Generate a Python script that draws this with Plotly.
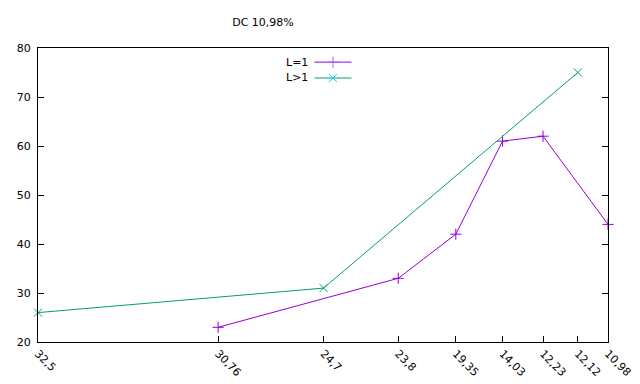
import plotly.graph_objects as go

# Data
x_pos = [0, 31.6, 50.1, 63.2, 73.3, 81.5, 88.6, 94.7, 100]
tick_labels = ["32,5", "30,76", "24,7", "23,8", "19,35", "14,03", "12,23", "12,12", "10,98"]

l1_x = [31.6, 63.2, 73.3, 81.5, 88.6, 100]
l1_y = [23, 33, 42, 61, 62, 44]

lg1_x = [0, 50.1, 94.7]
lg1_y = [26, 31, 75]

PURPLE = "#9400D3"
GREEN = "#009E73"
FONT = dict(family="DejaVu Sans, Verdana, sans-serif", size=11, color="black")
MSIZE = 8

fig = go.Figure()
fig.add_trace(go.Scatter(x=l1_x, y=l1_y, mode="lines+markers", name="L=1",
                         line=dict(color=PURPLE, width=1),
                         marker=dict(symbol="cross-thin-open", size=MSIZE,
                                     line=dict(color=PURPLE, width=1)),
                         showlegend=False, cliponaxis=False))
fig.add_trace(go.Scatter(x=lg1_x, y=lg1_y, mode="lines+markers", name="L>1",
                         line=dict(color=GREEN, width=1),
                         marker=dict(symbol="x-thin-open", size=MSIZE,
                                     line=dict(color=GREEN, width=1)),
                         showlegend=False, cliponaxis=False))

# manual gnuplot-style key (text, then sample)
key_names = ["L=1", "L>1"]
key_colors = [PURPLE, GREEN]
key_symbols = ["cross-thin-open", "x-thin-open"]
key_y = [0.952, 0.898]
for name, col, sym, ky in zip(key_names, key_colors, key_symbols, key_y):
    fig.add_trace(go.Scatter(x=[0.485, 0.55], y=[ky, ky], mode="lines",
                             line=dict(color=col, width=1), xaxis="x2", yaxis="y2",
                             showlegend=False, hoverinfo="skip"))
    fig.add_trace(go.Scatter(x=[0.5175], y=[ky], mode="markers",
                             marker=dict(symbol=sym, size=MSIZE, line=dict(color=col, width=1)),
                             xaxis="x2", yaxis="y2", showlegend=False, hoverinfo="skip"))
    fig.add_annotation(x=0.478, y=ky, xref="x2", yref="y2", text=name, showarrow=False,
                       xanchor="right", yanchor="middle", font=FONT)

fig.update_layout(
    width=640, height=384,
    margin=dict(l=38, r=32, t=48, b=42, autoexpand=False),
    paper_bgcolor="white", plot_bgcolor="white",
    font=FONT,
    title=dict(text="DC 10,98%", x=263/640, xanchor="center", y=1-22/384,
               yanchor="middle", font=FONT, automargin=False),
    xaxis=dict(range=[0, 100], tickvals=x_pos, ticktext=tick_labels, tickangle=45,
               showgrid=False, zeroline=False, showline=True, linecolor="black",
               linewidth=1, mirror=True, ticks="inside", ticklen=6, tickcolor="black",
               tickfont=FONT, automargin=False),
    yaxis=dict(range=[20, 80], dtick=10, showgrid=False, zeroline=False, showline=True,
               linecolor="black", linewidth=1, mirror="ticks", ticks="inside", ticklen=6,
               tickcolor="black", tickfont=FONT, ticklabelstandoff=4, automargin=False),
    xaxis2=dict(range=[0, 1], overlaying="x", visible=False, fixedrange=True),
    yaxis2=dict(range=[0, 1], overlaying="y", visible=False, fixedrange=True),
)

fig.write_html("out.html", config={"displayModeBar": False},
               post_script="document.body.style.margin='0';document.body.style.overflow='hidden';")
